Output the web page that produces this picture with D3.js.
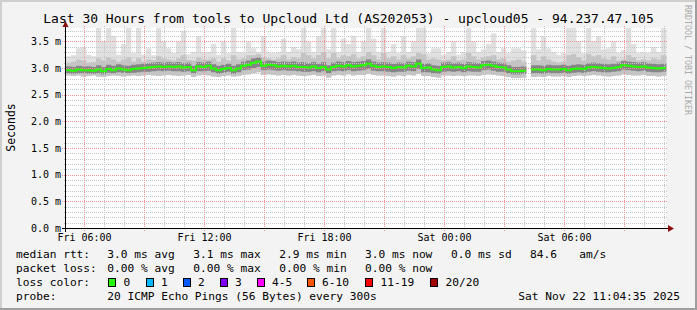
<!DOCTYPE html>
<html>
<head>
<meta charset="utf-8">
<script src="https://cdn.jsdelivr.net/npm/d3@7"></script>
<style>
body { margin: 0; background: #f3f3f3; }
svg { display: block; }
text { font-family: "DejaVu Sans Mono", monospace; }
</style>
</head>
<body>
<svg width="697" height="310"></svg>
<script>
// 15 minute samples, values in ms
var startTime = new Date(2025, 10, 21, 5, 4, 35),
    endTime = new Date(2025, 10, 22, 11, 4, 35),
    stepMin = 15;

var median = [2.96,2.95,2.97,2.96,2.96,2.95,2.97,2.94,2.98,2.96,2.99,2.97,2.96,2.98,2.99,3.00,3.01,3.02,3.03,3.02,
  3.03,3.02,3.03,3.01,3.02,2.96,3.03,3.02,3.04,2.99,2.96,2.98,3.00,2.96,2.99,3.04,3.06,3.10,3.12,3.04,
  3.06,3.05,3.03,3.04,3.03,3.04,3.02,3.02,3.01,3.03,3.00,3.02,2.97,3.02,3.04,3.03,3.05,3.03,3.04,3.05,
  3.08,3.04,3.02,3.03,3.02,3.00,3.02,3.01,3.04,3.03,3.08,3.00,3.01,2.97,2.96,3.02,3.03,3.01,3.02,3.00,
  3.03,3.02,3.01,3.05,3.06,3.04,3.02,3.01,2.97,2.94,2.94,2.95,null,2.97,2.97,2.96,2.98,2.97,2.97,2.98,
  2.96,2.98,2.99,2.98,3.01,3.02,3.01,3.00,2.99,3.00,3.02,3.05,3.04,3.03,3.02,3.03,3.01,3.00,2.99,3.00];

var smokeMin = [2.86,2.85,2.86,2.84,2.85,2.86,2.84,2.83,2.85,2.86,2.85,2.84,2.85,2.86,2.85,2.86,2.87,2.86,2.85,2.86,
  2.87,2.86,2.85,2.86,2.87,2.83,2.86,2.87,2.86,2.84,2.83,2.85,2.86,2.84,2.85,2.87,2.88,2.90,2.92,2.87,
  2.88,2.87,2.86,2.87,2.86,2.87,2.86,2.85,2.86,2.87,2.85,2.86,2.82,2.86,2.87,2.86,2.88,2.86,2.87,2.87,
  2.89,2.87,2.86,2.86,2.85,2.84,2.86,2.85,2.87,2.86,2.89,2.85,2.85,2.83,2.82,2.86,2.86,2.85,2.86,2.85,
  2.86,2.86,2.85,2.87,2.88,2.87,2.86,2.85,2.83,2.81,2.81,2.82,null,2.83,2.84,2.83,2.85,2.84,2.84,2.85,
  2.83,2.85,2.86,2.85,2.86,2.87,2.86,2.85,2.84,2.85,2.86,2.88,2.87,2.86,2.86,2.87,2.85,2.85,2.84,2.85];

var coreLow = [2.90,2.89,2.90,2.90,2.89,2.89,2.90,2.88,2.91,2.90,2.92,2.91,2.90,2.91,2.92,2.93,2.93,2.94,2.95,2.94,
  2.95,2.94,2.94,2.93,2.94,2.90,2.94,2.94,2.95,2.92,2.89,2.91,2.93,2.89,2.92,2.96,2.97,3.00,3.02,2.96,
  2.97,2.96,2.95,2.96,2.95,2.95,2.94,2.93,2.93,2.94,2.92,2.94,2.90,2.94,2.95,2.94,2.96,2.94,2.95,2.96,
  2.98,2.95,2.94,2.94,2.93,2.92,2.93,2.93,2.95,2.94,2.98,2.92,2.92,2.90,2.89,2.93,2.94,2.93,2.94,2.92,
  2.94,2.93,2.93,2.96,2.97,2.95,2.93,2.93,2.90,2.88,2.88,2.89,null,2.90,2.90,2.89,2.91,2.90,2.90,2.91,
  2.89,2.91,2.92,2.91,2.93,2.94,2.93,2.92,2.92,2.93,2.94,2.97,2.96,2.95,2.94,2.95,2.93,2.92,2.92,2.93];

var coreHigh = [3.03,3.02,3.04,3.03,3.03,3.02,3.05,3.02,3.06,3.04,3.07,3.05,3.04,3.06,3.07,3.08,3.09,3.10,3.11,3.10,
  3.11,3.10,3.11,3.09,3.10,3.04,3.11,3.10,3.12,3.07,3.04,3.06,3.08,3.04,3.07,3.12,3.14,3.18,3.20,3.12,
  3.14,3.13,3.11,3.12,3.11,3.12,3.10,3.11,3.09,3.11,3.08,3.11,3.05,3.10,3.12,3.11,3.13,3.11,3.12,3.13,
  3.16,3.12,3.10,3.11,3.10,3.08,3.10,3.09,3.12,3.11,3.16,3.08,3.09,3.05,3.04,3.10,3.11,3.09,3.10,3.08,
  3.11,3.10,3.09,3.13,3.14,3.12,3.10,3.09,3.05,3.02,3.02,3.03,null,3.05,3.05,3.04,3.06,3.05,3.05,3.06,
  3.04,3.06,3.07,3.06,3.09,3.10,3.09,3.08,3.07,3.08,3.10,3.13,3.12,3.11,3.10,3.11,3.09,3.08,3.07,3.08];

var smokeUpper = [3.10,3.12,3.16,3.14,3.10,3.11,3.18,3.14,3.20,3.16,3.12,3.16,3.20,3.12,3.18,3.12,3.16,3.14,3.22,3.18,
  3.16,3.14,3.18,3.24,3.15,3.14,3.20,3.16,3.16,3.18,3.12,3.18,3.14,3.24,3.16,3.18,3.24,3.24,3.26,3.20,
  3.18,3.16,3.18,3.24,3.16,3.20,3.18,3.28,3.24,3.18,3.24,3.30,3.18,3.28,3.18,3.24,3.22,3.26,3.18,3.22,
  3.30,3.24,3.16,3.28,3.18,3.22,3.16,3.24,3.18,3.22,3.28,3.26,3.16,3.18,3.16,3.14,3.16,3.22,3.14,3.16,
  3.28,3.22,3.16,3.20,3.22,3.24,3.16,3.18,3.12,3.14,3.16,3.12,null,3.24,3.14,3.22,3.16,3.12,3.10,3.12,
  3.24,3.26,3.20,3.14,3.26,3.22,3.24,3.18,3.16,3.22,3.14,3.16,3.24,3.20,3.14,3.16,3.14,3.18,3.16,3.24];

var smokeMax = [3.22,3.24,3.37,3.40,3.25,3.22,3.90,3.50,3.90,3.60,3.25,3.45,3.90,3.28,3.90,3.25,3.37,3.24,3.90,3.50,
  3.37,3.28,3.50,3.70,3.26,3.30,3.60,3.30,3.30,3.45,3.25,3.50,3.28,3.90,3.30,3.30,3.50,3.37,3.30,3.60,
  3.30,3.28,3.30,3.55,3.30,3.40,3.35,3.90,3.50,3.30,3.60,3.90,3.35,3.90,3.30,3.55,3.45,3.60,3.30,3.50,
  3.90,3.55,3.30,3.90,3.30,3.45,3.28,3.60,3.30,3.50,3.90,3.90,3.28,3.37,3.37,3.25,3.30,3.50,3.25,3.30,
  3.90,3.50,3.30,3.35,3.45,3.65,3.30,3.37,3.28,3.37,3.37,3.33,null,3.90,3.35,3.60,3.37,3.30,3.25,3.28,
  3.90,3.90,3.50,3.28,3.90,3.50,3.60,3.35,3.37,3.50,3.28,3.33,3.90,3.45,3.28,3.30,3.28,3.40,3.30,3.90];

var lossLabels = ["0", "1", "2", "3", "4-5", "6-10", "11-19", "20/20"];
var lossColors = ["#26ff00", "#00b8ff", "#0059ff", "#7e00ff", "#ff00ff", "#ff5500", "#ff0000", "#a10000"];

var svg = d3.select("svg");
var W = 697, H = 310;

var x = d3.scaleTime().domain([startTime, endTime]).range([66, 666]);
var y = d3.scaleLinear().domain([0, 3.75]).range([228, 28]);

// background + shading border
svg.append("rect").attr("width", W).attr("height", H).attr("fill", "#f3f3f3");
svg.append("rect").attr("x", 0).attr("y", 0).attr("width", W).attr("height", 2).attr("fill", "#cfcfcf");
svg.append("rect").attr("x", 0).attr("y", 0).attr("width", 2).attr("height", H).attr("fill", "#cfcfcf");
svg.append("rect").attr("x", 0).attr("y", H - 2).attr("width", W).attr("height", 2).attr("fill", "#9e9e9e");
svg.append("rect").attr("x", W - 2).attr("y", 0).attr("width", 2).attr("height", H).attr("fill", "#9e9e9e");

svg.append("rect").attr("x", 66).attr("y", 28).attr("width", 600).attr("height", 200).attr("fill", "#fff");

// smoke
var samples = median.map(function(m, i) {
  var t0 = d3.timeMinute.offset(startTime, i * stepMin);
  return { t0: t0, t1: d3.timeMinute.offset(t0, stepMin), med: m,
           min: smokeMin[i], lo: coreLow[i], hi: coreHigh[i], up: smokeUpper[i], max: smokeMax[i] };
}).filter(function(d) { return d.med != null; });

function smokeLayer(key0, key1, color) {
  svg.append("g").selectAll("rect")
    .data(samples)
    .enter().append("rect")
    .attr("x", function(d) { return x(d.t0); })
    .attr("width", function(d) { return x(d.t1) - x(d.t0) + 0.3; })
    .attr("y", function(d) { return y(Math.min(d[key1], 3.75)); })
    .attr("height", function(d) { return y(d[key0]) - y(Math.min(d[key1], 3.75)); })
    .attr("fill", color);
}
smokeLayer("min", "max", "#e0e0e0");
smokeLayer("min", "up", "#c4c4c4");
smokeLayer("lo", "hi", "#858585");

// grid, dotted like rrdtool (1px on, 1px off)
var gridG = svg.append("g").attr("stroke-width", 1).attr("stroke-dasharray", "1 1")
  .attr("shape-rendering", "crispEdges");
var minorColor = "#c6c6c6", majorColor = "#f09595";

function hGrid(vals, x1, x2, color) {
  gridG.append("g").selectAll("line").data(vals).enter().append("line")
    .attr("x1", x1).attr("x2", x2)
    .attr("y1", function(d) { return Math.round(y(d)) + 0.5; })
    .attr("y2", function(d) { return Math.round(y(d)) + 0.5; })
    .attr("stroke", color);
}
function vGrid(vals, y1, y2, color) {
  gridG.append("g").selectAll("line").data(vals).enter().append("line")
    .attr("y1", y1).attr("y2", y2)
    .attr("x1", function(d) { return Math.floor(x(d)) + 0.5; })
    .attr("x2", function(d) { return Math.floor(x(d)) + 0.5; })
    .attr("stroke", color);
}

var minorY = d3.range(1, 38).filter(function(k) { return k % 5 != 0; }).map(function(k) { return k / 10; });
var majorY = y.ticks(8);
var hours = x.ticks(d3.timeHour.every(1));
var minorX = hours.filter(function(d) { return d.getHours() % 3 != 0; });
var majorX = x.ticks(d3.timeHour.every(3));

hGrid(minorY, 64, 668, minorColor);
vGrid(minorX, 26, 230, minorColor);
hGrid(majorY.filter(function(d) { return d > 0; }), 62, 668, majorColor);
vGrid(majorX, 26, 232, majorColor);

// median line (stepped)
var medPts = [];
median.forEach(function(m, i) {
  var t0 = d3.timeMinute.offset(startTime, i * stepMin);
  if (m == null) { medPts.push({ t: t0, v: null }); return; }
  medPts.push({ t: t0, v: m });
  medPts.push({ t: d3.timeMinute.offset(t0, stepMin), v: m });
});
var medLine = d3.line()
  .defined(function(d) { return d.v != null; })
  .x(function(d) { return x(d.t); })
  .y(function(d) { return y(d.v); });
svg.append("path").datum(medPts)
  .attr("d", medLine)
  .attr("fill", "none")
  .attr("stroke", lossColors[0])
  .attr("stroke-width", 2);

// axes
svg.append("rect").attr("x", 62).attr("y", 228).attr("width", 608).attr("height", 1).attr("fill", "#000");
svg.append("rect").attr("x", 65).attr("y", 24).attr("width", 1).attr("height", 208).attr("fill", "#000");
svg.append("path").attr("d", "M668,225 L674,228.5 L668,232 Z").attr("fill", "#8b1010");
svg.append("path").attr("d", "M62.5,27 L65.5,21 L68.5,27 Z").attr("fill", "#8b1010");

// y tick labels
svg.append("g").selectAll("text").data(majorY).enter().append("text")
  .attr("x", 61).attr("y", function(d) { return y(d) + 3.5; })
  .attr("text-anchor", "end").attr("font-size", "10px")
  .text(function(d) { return d3.format(".1f")(d) + " m"; });

// x tick labels
svg.append("g").selectAll("text").data(x.ticks(d3.timeHour.every(6))).enter().append("text")
  .attr("x", function(d) { return x(d); }).attr("y", 240.5)
  .attr("text-anchor", "middle").attr("font-size", "10px")
  .text(d3.timeFormat("%a %H:%M"));

// titles
svg.append("text").attr("x", 348.5).attr("y", 23).attr("text-anchor", "middle")
  .attr("font-size", "13px")
  .text("Last 30 Hours from tools to Upcloud Ltd (AS202053) - upcloud05 - 94.237.47.105");
svg.append("text").attr("transform", "translate(14.5,127.5) rotate(-90)")
  .attr("text-anchor", "middle").attr("font-size", "11.5px").text("Seconds");
svg.append("text").attr("transform", "translate(685,5) rotate(90)")
  .attr("font-size", "8.3px").attr("fill", "#aaa").text("RRDTOOL / TOBI OETIKER");

// legend
var lg = svg.append("g").attr("font-size", "11.2px").attr("xml:space", "preserve");
function lt(xp, yp, s) { lg.append("text").attr("x", xp).attr("y", yp).text(s); }
lt(16, 258, "median rtt:");
lt(107.3, 258, "3.0 ms avg");
lt(193.3, 258, "3.1 ms max");
lt(279.3, 258, "2.9 ms min");
lt(365, 258, "3.0 ms now");
lt(451, 258, "0.0 ms sd");
lt(530, 258, "84.6");
lt(579.3, 258, "am/s");
lt(16, 272, "packet loss:");
lt(107.3, 272, "0.00 % avg");
lt(193.3, 272, "0.00 % max");
lt(279.3, 272, "0.00 % min");
lt(365, 272, "0.00 % now");
lt(16, 286, "loss color:");
var boxX = [108.5, 146, 183, 220, 257, 307, 365.5, 430.5];
lossLabels.forEach(function(l, i) {
  lg.append("rect").attr("x", boxX[i]).attr("y", 278.5).attr("width", 7).attr("height", 8)
    .attr("fill", lossColors[i]).attr("stroke", "#000").attr("shape-rendering", "crispEdges");
  lt(boxX[i] + 15, 286, l);
});
lt(16, 300, "probe:");
lt(107.3, 300, "20 ICMP Echo Pings (56 Bytes) every 300s");
lg.append("text").attr("x", 680).attr("y", 300).attr("text-anchor", "end").text("Sat Nov 22 11:04:35 2025");
</script>
</body>
</html>
